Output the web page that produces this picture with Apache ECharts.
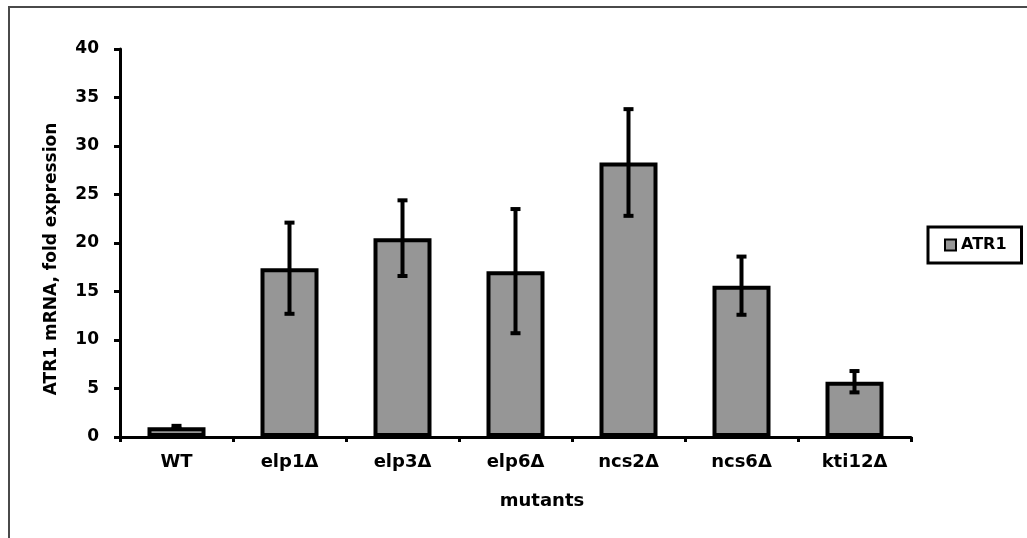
<!DOCTYPE html>
<html>
<head>
<meta charset="utf-8">
<title>ATR1 mRNA fold expression</title>
<script src="https://cdn.jsdelivr.net/npm/echarts@6/dist/echarts.min.js"></script>
<style>
  html, body { margin: 0; padding: 0; background: #fff; }
  #chart { width: 1027px; height: 538px; }
</style>
</head>
<body>
<div id="chart"></div>
<script>
// Strains and measured fold change (mean and error) of ATR1 mRNA
const categories = ['WT', 'elp1Δ', 'elp3Δ', 'elp6Δ', 'ncs2Δ', 'ncs6Δ', 'kti12Δ'];
const meanValues = [1.0, 17.4, 20.5, 17.1, 28.3, 15.6, 5.7];
const errorValues = [0.15, 4.7, 3.9, 6.4, 5.5, 3.0, 1.1];
const yTicks = [0, 5, 10, 15, 20, 25, 30, 35, 40];

const FONT = 'DejaVu Sans';
const BAR_FILL = '#969696';

const errorData = categories.map((c, i) => [i, meanValues[i], errorValues[i]]);

const chart = echarts.init(document.getElementById('chart'), null, { renderer: 'canvas' });

chart.setOption({
  animation: false,
  backgroundColor: '#ffffff',
  textStyle: { fontFamily: FONT, fontWeight: 'bold', color: '#000' },
  grid: { left: 120, right: 116, top: 49, bottom: 101, containLabel: false },
  legend: {
    data: ['ATR1'],
    left: 928,
    top: 227,
    orient: 'vertical',
    padding: [10, 15, 10, 16],
    backgroundColor: '#ffffff',
    borderColor: '#000',
    borderWidth: 3,
    itemWidth: 11,
    itemHeight: 11,
    icon: 'rect',
    itemStyle: { color: BAR_FILL, borderColor: '#000', borderWidth: 2 },
    textStyle: { fontFamily: FONT, fontWeight: 'bold', fontSize: 16, color: '#000' }
  },
  xAxis: {
    type: 'category',
    data: categories,
    boundaryGap: true,
    axisLine: { show: true, lineStyle: { color: '#000', width: 3 } },
    axisTick: { show: true, inside: false, length: 5, lineStyle: { color: '#000', width: 3 } },
    axisLabel: {
      margin: 16,
      fontFamily: FONT,
      fontWeight: 'bold',
      fontSize: 18,
      color: '#000'
    },
    splitLine: { show: false }
  },
  yAxis: {
    type: 'value',
    min: yTicks[0],
    max: yTicks[yTicks.length - 1],
    interval: yTicks[1] - yTicks[0],
    axisLine: { show: true, lineStyle: { color: '#000', width: 3 } },
    axisTick: { show: true, inside: false, length: 6, lineStyle: { color: '#000', width: 3 } },
    axisLabel: {
      margin: 21,
      fontFamily: FONT,
      fontWeight: 'bold',
      fontSize: 17,
      color: '#000'
    },
    splitLine: { show: false }
  },
  graphic: [
    {
      type: 'rect',
      silent: true,
      z: -10,
      shape: { x: 9, y: 7, width: 1100, height: 600 },
      style: { fill: 'none', stroke: '#4a4a4a', lineWidth: 2 }
    },
    {
      type: 'text',
      x: 52,
      y: 259,
      rotation: Math.PI / 2,
      style: {
        text: 'ATR1 mRNA, fold expression',
        fontFamily: FONT,
        fontWeight: 'bold',
        fontSize: 17,
        fill: '#000',
        align: 'center',
        verticalAlign: 'middle'
      }
    },
    {
      type: 'text',
      x: 542,
      y: 501,
      style: {
        text: 'mutants',
        fontFamily: FONT,
        fontWeight: 'bold',
        fontSize: 18,
        fill: '#000',
        align: 'center',
        verticalAlign: 'middle'
      }
    }
  ],
  series: [
    {
      name: 'ATR1',
      type: 'bar',
      data: meanValues,
      barWidth: 58,
      itemStyle: { color: BAR_FILL, borderColor: '#000', borderWidth: 4 },
      z: 2
    },
    {
      name: 'error',
      type: 'custom',
      data: errorData,
      z: 5,
      renderItem(params, api) {
        const idx = api.value(0);
        const mean = api.value(1);
        const err = api.value(2);
        const hi = api.coord([idx, mean + err]);
        const lo = api.coord([idx, mean - err]);
        const cap = 5;
        const stroke = { stroke: '#000', lineWidth: 4 };
        return {
          type: 'group',
          children: [
            { type: 'line', shape: { x1: hi[0], y1: hi[1], x2: lo[0], y2: lo[1] }, style: stroke },
            { type: 'line', shape: { x1: hi[0] - cap, y1: hi[1], x2: hi[0] + cap, y2: hi[1] }, style: stroke },
            { type: 'line', shape: { x1: lo[0] - cap, y1: lo[1], x2: lo[0] + cap, y2: lo[1] }, style: stroke }
          ]
        };
      }
    }
  ]
});
</script>
</body>
</html>
